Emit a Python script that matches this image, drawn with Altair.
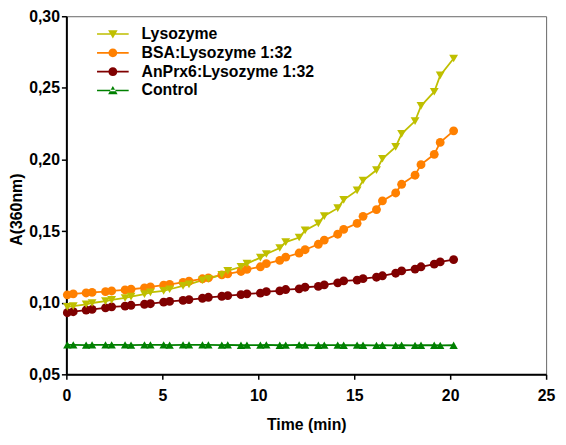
import altair as alt
import pandas as pd

# ---- data ----
times = [0.05, 0.36, 1.03, 1.34, 2.04, 2.36, 3.06, 3.37, 4.07, 4.38, 5.07, 5.38,
         6.08, 6.39, 7.09, 7.40, 8.10, 8.41, 9.10, 9.41, 10.11, 10.42, 11.12, 11.43,
         12.13, 12.44, 13.13, 13.44, 14.14, 14.45, 15.15, 15.46, 16.16, 16.47,
         17.16, 17.47, 18.17, 18.48, 19.17, 19.48, 20.18]

lysozyme = [0.0971, 0.0976, 0.0989, 0.0998, 0.1011, 0.1020, 0.1033, 0.1043, 0.1060, 0.1072,
            0.1083, 0.1094, 0.1117, 0.1128, 0.1157, 0.1166, 0.1195, 0.1222, 0.1251, 0.1273,
            0.1315, 0.1340, 0.1382, 0.1423, 0.1455, 0.1505, 0.1554, 0.1605, 0.1660, 0.1718,
            0.1784, 0.1853, 0.1926, 0.2005, 0.2088, 0.2179, 0.2268, 0.2374, 0.2473, 0.2587,
            0.2705]

bsa = [0.1055, 0.1062, 0.1068, 0.1072, 0.1077, 0.1082, 0.1089, 0.1094, 0.1104, 0.1110,
       0.1122, 0.1128, 0.1142, 0.1150, 0.1167, 0.1173, 0.1194, 0.1202, 0.1218, 0.1233,
       0.1251, 0.1273, 0.1296, 0.1318, 0.1347, 0.1370, 0.1408, 0.1437, 0.1478, 0.1512,
       0.1554, 0.1603, 0.1650, 0.1711, 0.1766, 0.1827, 0.1890, 0.1964, 0.2036, 0.2119,
       0.2200]

anprx6 = [0.0930, 0.0937, 0.0949, 0.0953, 0.0964, 0.0971, 0.0976, 0.0982, 0.0989, 0.0993,
          0.1004, 0.1009, 0.1016, 0.1022, 0.1031, 0.1038, 0.1045, 0.1050, 0.1056, 0.1062,
          0.1067, 0.1077, 0.1083, 0.1092, 0.1097, 0.1108, 0.1114, 0.1125, 0.1139, 0.1152,
          0.1158, 0.1168, 0.1178, 0.1188, 0.1206, 0.1222, 0.1235, 0.1251, 0.1269, 0.1285,
          0.1301]

control = [0.0705, 0.0706, 0.0704, 0.0705, 0.0705, 0.0706, 0.0705, 0.0704, 0.0706, 0.0705,
           0.0705, 0.0704, 0.0706, 0.0705, 0.0706, 0.0705, 0.0704, 0.0705, 0.0703, 0.0704,
           0.0704, 0.0705, 0.0703, 0.0704, 0.0705, 0.0704, 0.0703, 0.0704, 0.0704, 0.0703,
           0.0704, 0.0703, 0.0702, 0.0703, 0.0702, 0.0703, 0.0702, 0.0703, 0.0703, 0.0702,
           0.0703]

series_names = ["Lysozyme", "BSA:Lysozyme 1:32", "AnPrx6:Lysozyme 1:32", "Control"]
series_colors = ["#BFBF00", "#FF8000", "#800000", "#008000"]

x_ticks = [0, 5, 10, 15, 20, 25]
y_ticks = [0.05, 0.10, 0.15, 0.20, 0.25, 0.30]

color_of = dict(zip(series_names, series_colors))

# long table (drawing order: Control first, Lysozyme on top)
rows = []
for name, vals in [("Control", control), ("AnPrx6:Lysozyme 1:32", anprx6),
                   ("BSA:Lysozyme 1:32", bsa), ("Lysozyme", lysozyme)]:
    for t, v in zip(times, vals):
        rows.append({"time": t, "absorbance": v, "series": name, "hex": color_of[name]})
df = pd.DataFrame(rows)

FONT = "Liberation Sans"

# legend symbols: a thin bar (the line) with the series marker in the middle
# (unit = 8 px with symbolSize 256)
bar = "M-2,-0.1L2,-0.1L2,0.1L-2,0.1Z"
circ = "M0.56,0A0.56,0.56,0,1,1,-0.56,0A0.56,0.56,0,1,1,0.56,0Z"
legend_paths = [
    bar + "M-0.6,-0.48L0.6,-0.48L0,0.56Z",
    bar + circ,
    bar + circ,
    bar + "M-0.6,0.48L0.6,0.48L0,-0.56Z",
]

legend = alt.Legend(
    title=None, orient="none", legendX=39, legendY=10, padding=0, rowPadding=3,
    labelFont=FONT, labelFontSize=16, labelFontWeight="bold", labelColor="black",
    labelOffset=21, labelLimit=0, symbolSize=256, symbolOpacity=1, symbolStrokeWidth=0,
)

x_enc = alt.X(
    "time:Q",
    scale=alt.Scale(domain=[0, 25], nice=False),
    axis=alt.Axis(values=x_ticks, title="Time (min)", grid=False, labelFlush=False,
                  labelFont=FONT, labelFontSize=16, labelFontWeight="bold", labelColor="black",
                  titleFont=FONT, titleFontSize=16, titleFontWeight="bold", titleColor="black",
                  tickSize=5, tickWidth=1.5, tickColor="black",
                  domainColor="black", domainWidth=2, labelPadding=8,
                  titleY=51, titleBaseline="middle"),
)
y_enc = alt.Y(
    "absorbance:Q",
    scale=alt.Scale(domain=[0.05, 0.30], nice=False, zero=False),
    axis=alt.Axis(values=y_ticks, title="A(360nm)", grid=False, labelFlush=False,
                  labelExpr="replace(format(datum.value, '.2f'), '.', ',')",
                  labelFont=FONT, labelFontSize=16, labelFontWeight="bold", labelColor="black",
                  titleFont=FONT, titleFontSize=16, titleFontWeight="bold", titleColor="black",
                  tickSize=5, tickWidth=1.5, tickColor="black",
                  domainColor="black", domainWidth=2, labelPadding=2,
                  titleX=-50, titleY=195, titleBaseline="middle"),
)
color_scale = alt.Scale(domain=series_names, range=series_colors)
color_direct = alt.Color("hex:N", scale=None)

base = alt.Chart(df)

lines = base.mark_line(strokeWidth=1.8).encode(
    x=x_enc, y=y_enc, color=color_direct, detail="series:N", order=alt.Order("time:Q"),
)

pts_control = base.transform_filter(alt.datum.series == "Control").mark_point(
    filled=True, opacity=1, size=72, shape="triangle-up"
).encode(x=x_enc, y=y_enc, color=color_direct)

pts_circles = base.transform_filter(
    (alt.datum.series == "BSA:Lysozyme 1:32") | (alt.datum.series == "AnPrx6:Lysozyme 1:32")
).mark_point(filled=True, opacity=1, size=80, shape="circle").encode(
    x=x_enc, y=y_enc, color=color_direct)

pts_lyso = base.transform_filter(alt.datum.series == "Lysozyme").mark_point(
    filled=True, opacity=1, size=80, shape="triangle-down"
).encode(x=x_enc, y=y_enc, color=color_direct)

# legend-only layer (no rows pass the filter)
legend_layer = base.transform_filter("false").mark_point(
    filled=True, opacity=1, size=256
).encode(
    x=x_enc, y=y_enc,
    color=alt.Color("series:N", scale=color_scale, legend=legend),
    shape=alt.Shape("series:N", scale=alt.Scale(domain=series_names, range=legend_paths),
                    legend=legend),
)

chart = (
    alt.layer(lines, pts_control, pts_circles, pts_lyso, legend_layer)
    .properties(
        width=485, height=362,
        autosize=alt.AutoSizeParams(type="none"),
        padding={"left": 59, "top": 6, "right": 12, "bottom": 59},
    )
    .configure(font=FONT)
    .configure_view(stroke="#666666", strokeWidth=1)
)

chart.save("out.html", embed_options={"renderer": "svg", "actions": False})
